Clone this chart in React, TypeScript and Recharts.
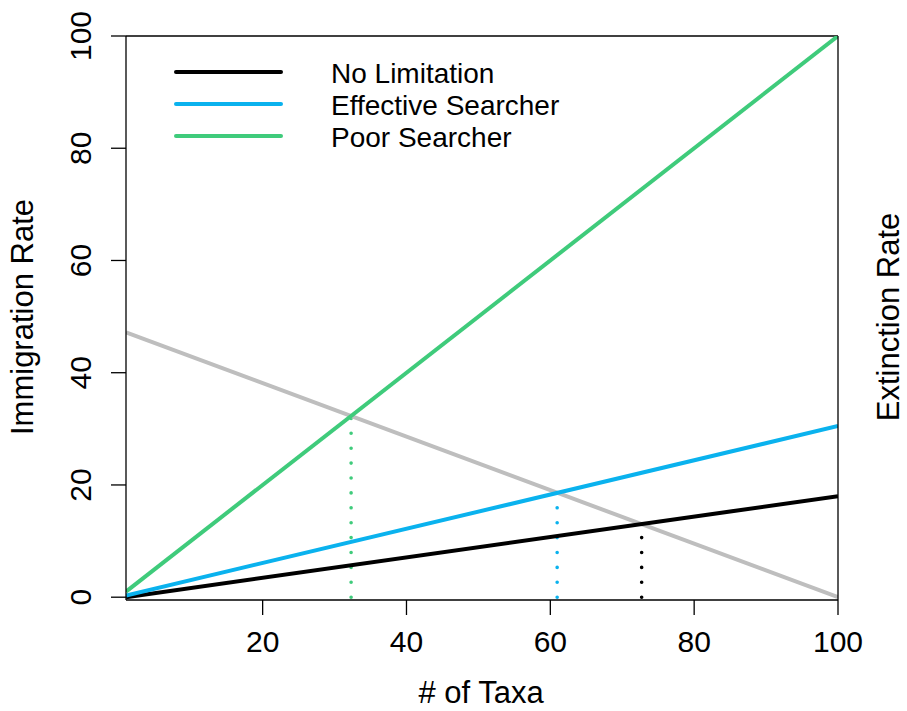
import React from 'react';
import { ComposedChart, Line, XAxis, YAxis, ReferenceLine } from 'recharts';

// ---- data ----
const taxaEnds = [1, 100];
const noLimitation = [0, 18];
const effectiveSearcher = [0.3, 30.5];
const poorSearcher = [1, 100];
const extinction = [47.2, 0];

const seriesNames = ['No Limitation', 'Effective Searcher', 'Poor Searcher'];
const seriesKeys = ['noLim', 'eff', 'poor'];
const seriesColors = ['#000000', '#0AB2EE', '#3FCB7B'];
const extinctionColor = '#BEBEBE';

// equilibrium points (intersection with extinction line), in order of the series
const equilibriumTaxa = [72.7, 60.95, 32.3];
const equilibriumRate = [13.1, 18.6, 32.3];

const xTicks = [20, 40, 60, 80, 100];
const yTicks = [0, 20, 40, 60, 80, 100];

const rows = taxaEnds.map((x, i) => ({
  x,
  noLim: noLimitation[i],
  eff: effectiveSearcher[i],
  poor: poorSearcher[i],
  ext: extinction[i],
}));

const dropLines = equilibriumTaxa.map((t, i) => [
  { x: t, y: 0 },
  { x: t, y: equilibriumRate[i] },
]);

const FONT = '"Liberation Sans", Arial, Helvetica, sans-serif';

const LeftTick = (props: any) => {
  const { y, payload } = props;
  const bx = 91;
  return (
    <text
      x={bx}
      y={y}
      transform={`rotate(-90, ${bx}, ${y})`}
      textAnchor="middle"
      fontSize={30}
      fontFamily={FONT}
      fill="#000"
    >
      {payload.value}
    </text>
  );
};

const BottomTick = (props: any) => {
  const { x, payload } = props;
  return (
    <text x={x} y={652} textAnchor="middle" fontSize={30} fontFamily={FONT} fill="#000">
      {payload.value}
    </text>
  );
};

export default function App() {
  return (
    <div style={{ position: 'absolute', left: 0, top: 0, width: 907, height: 711, background: '#fff' }}>
      <ComposedChart
        width={907}
        height={711}
        data={rows}
        margin={{ top: 36, right: 9, bottom: 51, left: 66 }}
      >
        <XAxis
          type="number"
          dataKey="x"
          domain={[1, 100]}
          ticks={xTicks}
          allowDataOverflow
          height={60}
          tickSize={15}
          axisLine={{ stroke: '#000', strokeWidth: 1.3 }}
          tickLine={{ stroke: '#000', strokeWidth: 1.3 }}
          tick={BottomTick}
          label={{
            content: () => (
              <text x={481} y={703} textAnchor="middle" fontSize={31} fontFamily={FONT} fill="#000">
                # of Taxa
              </text>
            ),
          }}
        />
        <YAxis
          yAxisId="left"
          type="number"
          domain={[-0.5, 100]}
          ticks={yTicks}
          allowDataOverflow
          width={60}
          tickSize={15}
          axisLine={{ stroke: '#000', strokeWidth: 1.3 }}
          tickLine={{ stroke: '#000', strokeWidth: 1.3 }}
          tick={LeftTick}
          label={{
            content: () => (
              <text
                x={33}
                y={317}
                transform="rotate(-90, 33, 317)"
                textAnchor="middle"
                fontSize={31}
                fontFamily={FONT}
                fill="#000"
              >
                Immigration Rate
              </text>
            ),
          }}
        />
        <YAxis
          yAxisId="right"
          orientation="right"
          type="number"
          domain={[-0.5, 100]}
          ticks={yTicks}
          allowDataOverflow
          width={60}
          tickSize={15}
          axisLine={{ stroke: '#000', strokeWidth: 1.3 }}
          tickLine={{ stroke: '#000', strokeWidth: 1.3 }}
          tick={false}
          label={{
            content: () => (
              <text
                x={899}
                y={317}
                transform="rotate(-90, 899, 317)"
                textAnchor="middle"
                fontSize={31}
                fontFamily={FONT}
                fill="#000"
              >
                Extinction Rate
              </text>
            ),
          }}
        />
        <ReferenceLine yAxisId="left" y={100} stroke="#000" strokeWidth={1.3} />

        {dropLines.map((d, i) => (
          <Line
            key={'drop' + i}
            yAxisId="left"
            data={d}
            dataKey="y"
            stroke={seriesColors[i]}
            strokeWidth={3.6}
            strokeDasharray="0 14.9"
            strokeLinecap="round"
            dot={false}
            activeDot={false}
            legendType="none"
            isAnimationActive={false}
          />
        ))}

        <Line
          yAxisId="left"
          dataKey="ext"
          stroke={extinctionColor}
          strokeWidth={4}
          dot={false}
          activeDot={false}
          isAnimationActive={false}
        />
        {seriesKeys.map((k, i) => (
          <Line
            key={k}
            yAxisId="left"
            dataKey={k}
            name={seriesNames[i]}
            stroke={seriesColors[i]}
            strokeWidth={4}
            dot={false}
            activeDot={false}
            isAnimationActive={false}
          />
        ))}

        <g>
          {seriesNames.map((n, i) => (
            <g key={n}>
              <line
                x1={176}
                x2={281}
                y1={72 + i * 32}
                y2={72 + i * 32}
                stroke={seriesColors[i]}
                strokeWidth={4}
                strokeLinecap="round"
              />
              <text x={331} y={83 + i * 32} fontSize={28} fontFamily={FONT} fill="#000">
                {n}
              </text>
            </g>
          ))}
        </g>
      </ComposedChart>
    </div>
  );
}
